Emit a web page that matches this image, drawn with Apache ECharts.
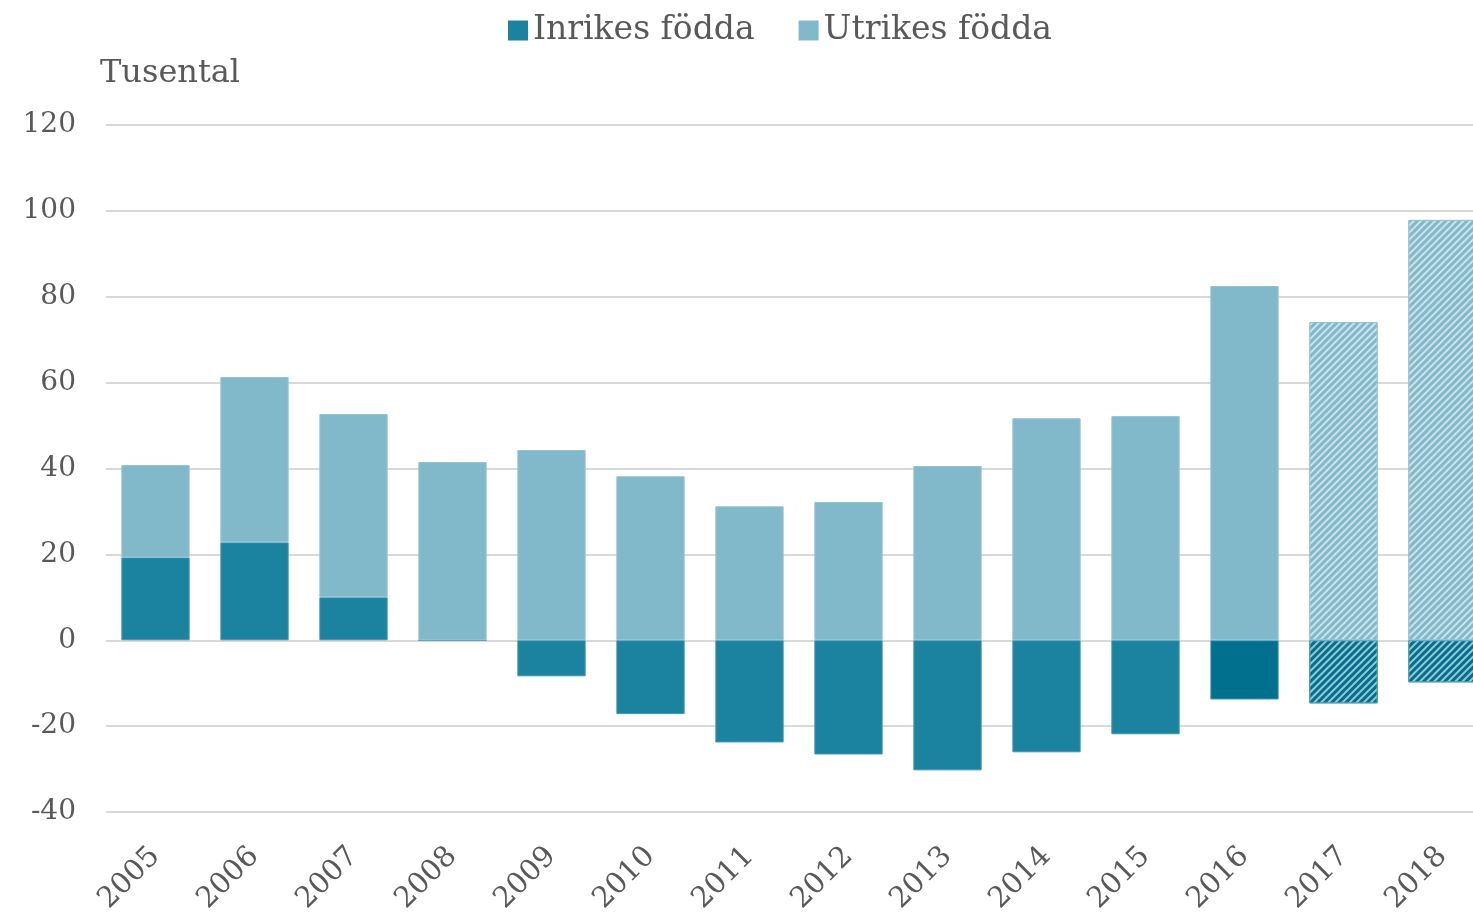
<!DOCTYPE html>
<html>
<head>
<meta charset="utf-8">
<script src="https://cdn.jsdelivr.net/npm/echarts@6/dist/echarts.min.js"></script>
<style>
  html, body { margin: 0; padding: 0; background: #fff; }
  #chart { width: 1473px; height: 921px; }
</style>
</head>
<body>
<div id="chart"></div>
<script>
const years = ['2005', '2006', '2007', '2008', '2009', '2010', '2011', '2012', '2013', '2014', '2015', '2016', '2017', '2018']
const inrikes = [19.3, 22.8, 10, 0, -8.4, -17.2, -23.8, -26.6, -30.3, -26.1, -21.9, -13.8, -14.7, -9.8]
const utrikes = [21.5, 38.5, 42.7, 41.5, 44.3, 38.2, 31.2, 32.2, 40.6, 51.7, 52.2, 82.5, 74.1, 97.9]
const yTicks = [-40, -20, 0, 20, 40, 60, 80, 100, 120]

const font = 'DejaVu Serif'
const textColor = '#595959'
const inrikesColor = '#1b829f'
const utrikesColor = '#81b9ca'
// prognosis years get a hatch
const forecastYears = ['2017', '2018']

const hatch = {
  symbol: 'rect',
  symbolSize: 1,
  dashArrayX: [1, 0],
  dashArrayY: [2, 3],
  rotation: -Math.PI / 4,
  color: 'rgba(255,255,255,0.6)'
}

function items(values, color, border) {
  return values.map((v, i) => {
    const item = { value: v, itemStyle: { color: color, borderColor: border, borderWidth: 1 } }
    if (years[i] === '2016' && color === inrikesColor) {
      item.itemStyle.color = '#00708f'
    }
    if (forecastYears.includes(years[i])) {
      item.itemStyle.decal = hatch
      if (color === inrikesColor) item.itemStyle.color = '#00708f'
    }
    return item
  })
}

const chart = echarts.init(document.getElementById('chart'))
chart.setOption({
  animation: false,
  textStyle: { fontFamily: font },
  legend: {
    top: 9,
    left: 503,
    itemWidth: 20,
    itemHeight: 20,
    itemGap: 44,
    icon: 'rect',
    textStyle: { fontFamily: font, fontSize: 33, color: textColor },
    data: ['Inrikes födda', 'Utrikes födda']
  },
  graphic: [{
    type: 'text',
    left: 100,
    top: 58,
    style: { text: 'Tusental', font: '32px "DejaVu Serif"', fill: textColor }
  }],
  grid: { left: 106, top: 125, width: 1386, height: 687, outerBoundsMode: 'none' },
  xAxis: {
    type: 'category',
    data: years,
    axisLine: { show: false },
    axisTick: { show: false },
    axisLabel: { rotate: 45, fontSize: 29, color: textColor, margin: 40, fontFamily: font }
  },
  yAxis: {
    type: 'value',
    min: yTicks[0],
    max: yTicks[yTicks.length - 1],
    interval: 20,
    axisLine: { show: false },
    axisTick: { show: false },
    axisLabel: { fontSize: 28, color: textColor, margin: 30, fontFamily: font },
    splitLine: { lineStyle: { color: '#d9d9d9', width: 2 } }
  },
  series: [
    {
      name: 'Inrikes födda',
      type: 'bar',
      stack: 'total',
      barCategoryGap: '31%',
      itemStyle: { color: inrikesColor },
      data: items(inrikes, inrikesColor, '#3f97b0')
    },
    {
      name: 'Utrikes födda',
      type: 'bar',
      stack: 'total',
      barCategoryGap: '31%',
      itemStyle: { color: utrikesColor },
      data: items(utrikes, utrikesColor, '#93c4d3')
    }
  ]
})
</script>
</body>
</html>
